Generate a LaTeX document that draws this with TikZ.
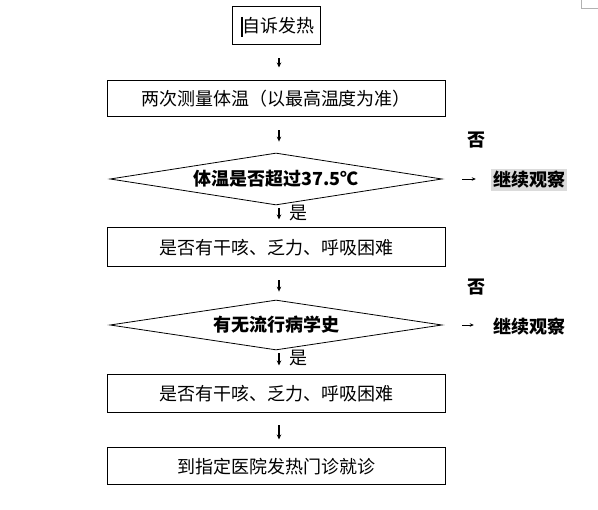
\documentclass[tikz,border=0pt]{standalone}
\usepackage{fontspec}
\setmainfont{Noto Sans CJK SC}
\usetikzlibrary{shapes.geometric,arrows.meta}
\tikzset{
  box/.style={draw, line width=1pt, minimum width=338pt, inner sep=0pt, font=\fontsize{18}{20}\selectfont},
  dia/.style={draw, diamond, aspect=6.4, line width=0.8pt, minimum width=332pt, inner sep=0pt, font=\fontsize{18}{20}\selectfont\bfseries},
  arr/.style={-{Stealth[length=5pt,width=4.5pt]}, line width=1.2pt},
  harr/.style={-{Stealth[length=4pt,width=3.5pt]}, line width=0.7pt},
  lbl/.style={inner sep=1pt, font=\fontsize{18}{20}\selectfont},
  obs/.style={inner sep=2pt, font=\fontsize{18}{20}\selectfont\bfseries}
}
\begin{document}
\begin{tikzpicture}[x=1pt,y=-1pt]
\useasboundingbox (0,0) rectangle (598,510);
\draw[gray!60, line width=0.8pt] (581,0) -- (581,8) -- (598,8);

\node[box, minimum width=88pt, minimum height=38pt] (b1) at (276,26) {\hspace{4pt}自诉发热};
\draw[line width=2pt] (242,17) -- (242,37);
\node[box, minimum height=36pt] (b2) at (276,99) {两次测量体温（以最高温度为准）};
\node[dia, minimum height=52pt] (d1) at (276,179) {体温是否超过37.5℃};
\node[box, minimum height=39pt] (b3) at (276,247.5) {是否有干咳、乏力、呼吸困难};
\node[dia, minimum height=50pt] (d2) at (276,325) {有无流行病学史};
\node[box, minimum height=38pt] (b4) at (276,394) {是否有干咳、乏力、呼吸困难};
\node[box, minimum height=37pt] (b5) at (276,466.5) {到指定医院发热门诊就诊};

\node[lbl, font=\fontsize{18}{20}\selectfont\bfseries] (n1) at (476,140) {否};
\node[lbl, font=\fontsize{18}{20}\selectfont\bfseries] (n2) at (476,287) {否};
\node[lbl] (y1) at (298,213) {是};
\node[lbl] (y2) at (298,358) {是};
\node[obs, fill=gray!28] (o1) at (529,180) {继续观察};
\node[obs] (o2) at (529,327) {继续观察};

\draw[arr, shorten <=13pt, shorten >=13pt] ([xshift=3pt]b1.south) -- ([xshift=3pt]b2.north);
\draw[arr, shorten <=13pt, shorten >=11pt] ([xshift=3pt]b2.south) -- ([xshift=3pt]b2.south |- d1.north);
\draw[arr, shorten <=3pt, shorten >=8pt] ([xshift=3pt]d1.south) -- ([xshift=3pt]b3.north);
\draw[arr, shorten <=13pt, shorten >=8pt] ([xshift=3pt]b3.south) -- ([xshift=3pt]b3.south |- d2.north);
\draw[arr, shorten <=3pt, shorten >=9pt] ([xshift=3pt]d2.south) -- ([xshift=3pt]b4.north);
\draw[arr, shorten <=12pt, shorten >=8pt] ([xshift=3pt]b4.south) -- ([xshift=3pt]b5.north);

\draw[harr, shorten <=20pt, shorten >=15pt] (d1.east) -- (d1.east -| o1.west);
\draw[harr, shorten <=20pt, shorten >=17pt] (d2.east) -- (d2.east -| o2.west);
\end{tikzpicture}
\end{document}
